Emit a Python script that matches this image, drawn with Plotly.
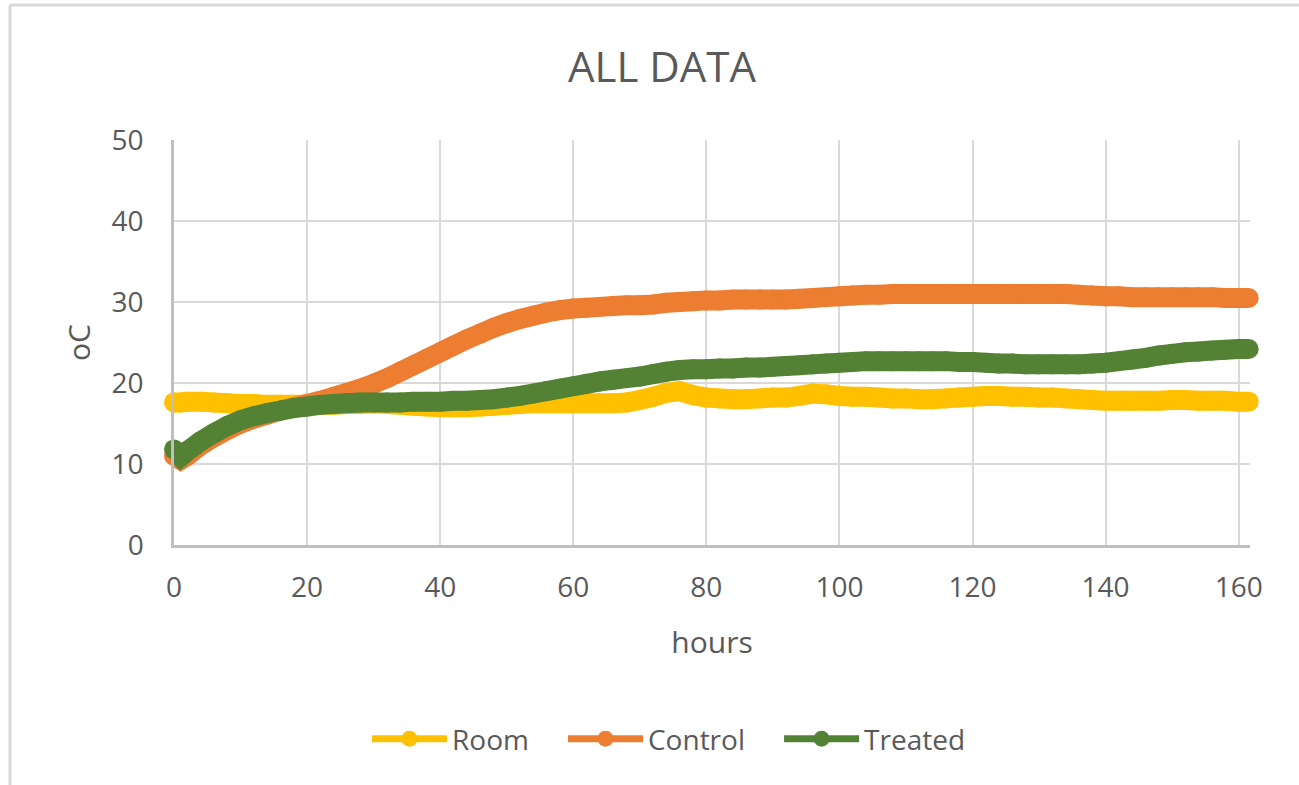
import plotly.graph_objects as go

hours = [0, 1, 2, 4, 6, 8, 10, 12, 14, 16, 18, 20, 22, 24, 26, 28, 30, 32, 34, 36, 38,
         40, 42, 44, 46, 48, 50, 52, 54, 56, 58, 60, 62, 64, 66, 68, 70, 72, 74, 76, 78,
         80, 82, 84, 86, 88, 90, 92, 94, 96, 98, 100, 102, 104, 106, 108, 110, 112, 114,
         116, 118, 120, 122, 124, 126, 128, 130, 132, 134, 136, 138, 140, 142, 144, 146,
         148, 150, 152, 154, 156, 158, 160, 161.5]

room = [17.6, 17.6, 17.7, 17.7, 17.6, 17.5, 17.4, 17.4, 17.3, 17.3, 17.3, 17.3, 17.3, 17.3,
        17.4, 17.4, 17.5, 17.4, 17.3, 17.2, 17.1, 17.0, 17.0, 17.0, 17.1, 17.2, 17.3, 17.4,
        17.5, 17.5, 17.5, 17.5, 17.5, 17.5, 17.5, 17.6, 17.9, 18.3, 18.8, 19.0, 18.5,
        18.2, 18.1, 18.0, 18.0, 18.1, 18.2, 18.2, 18.4, 18.7, 18.6, 18.4, 18.3, 18.3, 18.2,
        18.1, 18.1, 18.0, 18.0, 18.1, 18.2, 18.3, 18.4, 18.4, 18.3, 18.3, 18.2, 18.2, 18.1,
        18.0, 17.9, 17.8, 17.8, 17.8, 17.8, 17.8, 17.9, 17.9, 17.8, 17.8, 17.8, 17.7, 17.7]

control = [11.0, 10.5, 11.0, 12.3, 13.3, 14.2, 15.0, 15.6, 16.1, 16.6, 17.0, 17.4, 17.8, 18.3,
           18.8, 19.3, 19.9, 20.6, 21.4, 22.2, 23.0, 23.8, 24.6, 25.4, 26.1, 26.8, 27.4,
           27.9, 28.3, 28.7, 29.0, 29.2, 29.3, 29.4, 29.5, 29.6, 29.6, 29.7, 29.9, 30.0,
           30.1, 30.2, 30.2, 30.3, 30.3, 30.3, 30.3, 30.3, 30.4, 30.5, 30.6, 30.7, 30.8,
           30.9, 30.9, 31.0, 31.0, 31.0, 31.0, 31.0, 31.0, 31.0, 31.0, 31.0, 31.0, 31.0,
           31.0, 31.0, 31.0, 30.9, 30.8, 30.7, 30.7, 30.6, 30.6, 30.6, 30.6, 30.6, 30.6,
           30.6, 30.5, 30.5, 30.5]

treated = [11.8, 10.9, 11.6, 12.8, 13.8, 14.7, 15.4, 15.9, 16.3, 16.6, 16.9, 17.1, 17.3, 17.4,
           17.5, 17.6, 17.6, 17.6, 17.6, 17.7, 17.7, 17.7, 17.8, 17.8, 17.9, 18.0, 18.2,
           18.4, 18.7, 19.0, 19.3, 19.6, 19.9, 20.2, 20.4, 20.6, 20.8, 21.1, 21.4, 21.6,
           21.7, 21.7, 21.8, 21.8, 21.9, 21.9, 22.0, 22.1, 22.2, 22.3, 22.4, 22.5, 22.6,
           22.7, 22.7, 22.7, 22.7, 22.7, 22.7, 22.7, 22.6, 22.6, 22.5, 22.4, 22.4, 22.3,
           22.3, 22.3, 22.3, 22.3, 22.4, 22.5, 22.7, 22.9, 23.1, 23.4, 23.6, 23.8, 23.9,
           24.0, 24.1, 24.2, 24.2]

series_names = ["Room", "Control", "Treated"]
series_colors = ["#FFC000", "#ED7D31", "#548235"]
series_values = [room, control, treated]

TXT = "#595959"
FONT = "Open Sans"
NB = "\u00a0"

fig = go.Figure()
for name, vals, col in zip(series_names, series_values, series_colors):
    fig.add_trace(go.Scatter(
        x=hours, y=vals, mode="lines+markers", name=name, showlegend=False,
        line=dict(color=col, width=20, simplify=False), marker=dict(color=col, size=20),
        cliponaxis=False, hoverinfo="x+y+name"))
for i, (name, col) in enumerate(zip(series_names, series_colors)):
    label = name + (NB * 4 if i < len(series_names) - 1 else "")
    fig.add_trace(go.Scatter(
        x=[None], y=[None], mode="lines+markers", name=label,
        line=dict(color=col, width=7), marker=dict(color=col, size=16)))

fig.update_layout(
    width=1299, height=785,
    margin=dict(l=174, r=49, t=140, b=240),
    paper_bgcolor="white", plot_bgcolor="white",
    font=dict(family=FONT, color=TXT, size=28),
    title=dict(text="ALL DATA", x=662 / 1299, xref="container", xanchor="center",
               y=1 - 67 / 785, yref="container", yanchor="middle",
               font=dict(size=42, color=TXT, family=FONT)),
    xaxis=dict(range=[0, 161.7], tickvals=[0, 20, 40, 60, 80, 100, 120, 140, 160],
               showgrid=True, gridcolor="#D9D9D9", gridwidth=2,
               showline=True, linecolor="#BFBFBF", linewidth=2.5,
               zeroline=False, ticks="", tickfont=dict(size=28, color=TXT),
               ticklabelstandoff=16,
               title=dict(text="hours", font=dict(size=30, color=TXT), standoff=28)),
    yaxis=dict(range=[0, 50], tickvals=[0, 10, 20, 30, 40, 50],
               showgrid=True, gridcolor="#D9D9D9", gridwidth=2,
               showline=True, linecolor="#BFBFBF", linewidth=2.5,
               zeroline=False, ticks="", tickfont=dict(size=28, color=TXT),
               ticklabelstandoff=22,
               title=dict(text="oC", font=dict(size=30, color=TXT), standoff=13)),
    legend=dict(orientation="h", x=(669 - 174) / 1076, xanchor="center",
                y=(545 - 739) / 405, yanchor="middle",
                font=dict(size=28, color=TXT), itemwidth=75, bgcolor="rgba(0,0,0,0)"),
    shapes=[
        dict(type="line", xref="paper", yref="paper", x0=(10 - 174) / 1076, x1=(10 - 174) / 1076,
             y0=(545 - 5) / 405, y1=(545 - 800) / 405, line=dict(color="#D9D9D9", width=3)),
        dict(type="line", xref="paper", yref="paper", x0=(10 - 174) / 1076, x1=(1310 - 174) / 1076,
             y0=(545 - 5) / 405, y1=(545 - 5) / 405, line=dict(color="#D9D9D9", width=3)),
    ],
)

fig.write_html("out.html", config={"displayModeBar": False},
               post_script="document.body.style.margin='0';document.body.style.overflow='hidden';")
